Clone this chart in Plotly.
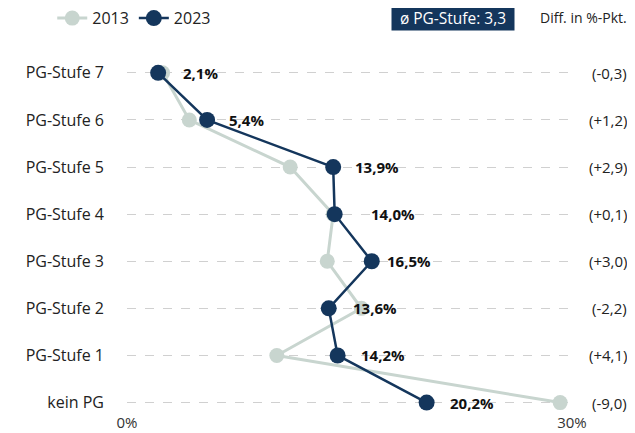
import plotly.graph_objects as go

categories = ["kein PG", "PG-Stufe 1", "PG-Stufe 2", "PG-Stufe 3", "PG-Stufe 4", "PG-Stufe 5", "PG-Stufe 6", "PG-Stufe 7"]
values_2013 = [29.2, 10.1, 15.8, 13.5, 13.9, 11.0, 4.2, 2.4]
values_2023 = [20.2, 14.2, 13.6, 16.5, 14.0, 13.9, 5.4, 2.1]
diff_labels = ["(-9,0)", "(+4,1)", "(-2,2)", "(+3,0)", "(+0,1)", "(+2,9)", "(+1,2)", "(-0,3)"]
value_labels = ["20,2%", "14,2%", "13,6%", "16,5%", "14,0%", "13,9%", "5,4%", "2,1%"]
label_shift = [23, 23, 24, 15, 36, 22, 22, 25]

NAVY = "#14365c"
GREY = "#c8d5cf"
FONT = "Open Sans"
ypos = list(range(len(categories)))

fig = go.Figure()
fig.add_trace(go.Scatter(x=values_2013, y=ypos, mode="lines+markers", name="2013",
                         line=dict(color=GREY, width=3), marker=dict(color=GREY, size=15)))
fig.add_trace(go.Scatter(x=values_2023, y=ypos, mode="lines+markers", name="2023",
                         line=dict(color=NAVY, width=2.5), marker=dict(color=NAVY, size=16)))

for i, (v, t) in enumerate(zip(values_2023, value_labels)):
    fig.add_annotation(x=v, y=i, text="<b>" + t + "</b>", showarrow=False, xanchor="left",
                       xshift=label_shift[i] - 2, font=dict(size=15, color="#111", family=FONT))
    fig.add_annotation(x=1.127, xref="paper", y=i, text=diff_labels[i], showarrow=False,
                       xanchor="right", font=dict(size=15, color="#222", family=FONT))

fig.add_annotation(x=0.872, xref="paper", y=1.103, yref="paper", text="ø PG-Stufe: 3,3",
                   showarrow=False, xanchor="right", yanchor="middle", bgcolor=NAVY,
                   width=116, height=19, borderpad=3,
                   font=dict(size=15.5, color="white", family=FONT))
fig.add_annotation(x=1.128, xref="paper", y=1.103, yref="paper", text="Diff. in %-Pkt.",
                   showarrow=False, xanchor="right", yanchor="middle",
                   font=dict(size=14, color="#222", family=FONT))

fig.update_layout(
    width=627, height=425,
    margin=dict(l=119, r=63, t=46, b=20.7, autoexpand=False),
    plot_bgcolor="white", paper_bgcolor="white",
    font=dict(family=FONT, size=16, color="#222"),
    showlegend=True,
    legend=dict(orientation="h", x=-0.168, y=1.1, xanchor="left", yanchor="middle",
                font=dict(size=16, color="#222", family=FONT)),
    xaxis=dict(range=[0, 30], tickvals=[0, 30], ticktext=["0%", "30%"], showgrid=False,
               zeroline=False, showline=False, ticks="", tickfont=dict(size=15, color="#333")),
    yaxis=dict(range=[-0.2, 7.4], tickvals=ypos, ticktext=categories, showgrid=True,
               gridcolor="#d0d0d0", griddash="dash", gridwidth=1, zeroline=False,
               ticks="", ticklabelstandoff=22, tickfont=dict(size=16, color="#222")),
)

fig.write_html("out.html")
